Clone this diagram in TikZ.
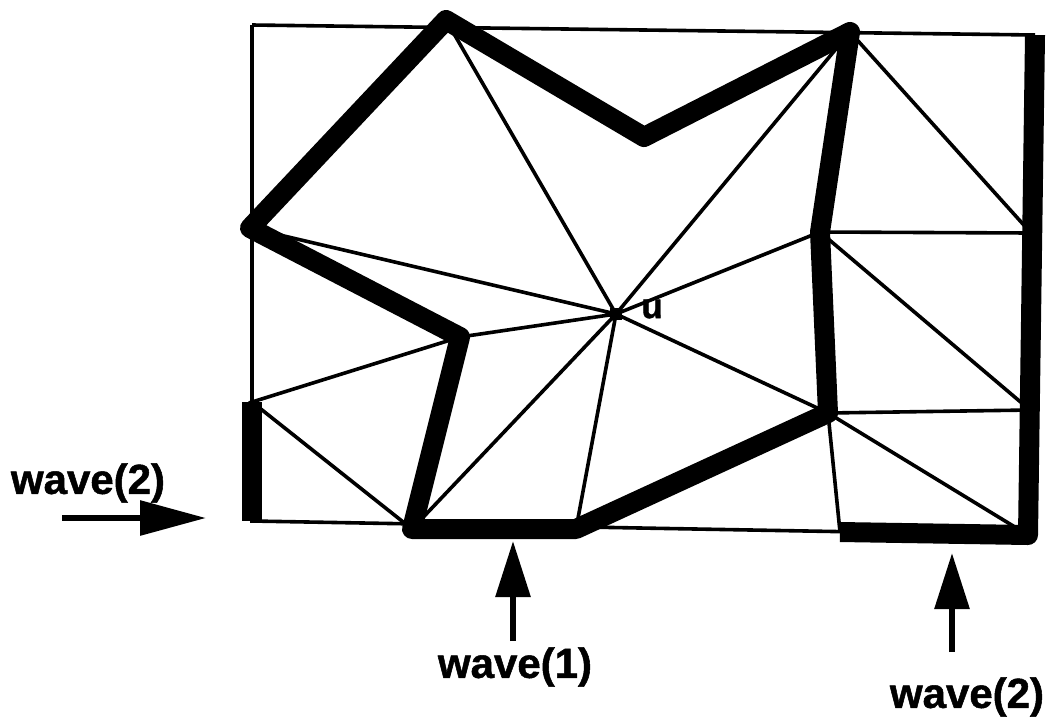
\documentclass[tikz,border=0pt]{standalone}
\usepackage{fontspec}
\setmainfont{Liberation Sans}
\newfontfamily\wavefont{Liberation Sans}[BoldFeatures={FakeBold=1.2}]
\usetikzlibrary{arrows.meta}

\begin{document}
\begin{tikzpicture}[x=1pt,y=-1pt,
  thinedge/.style={line width=3.6pt},
  thickedge/.style={line width=20pt,line join=round},
  wavearrow/.style={line width=6pt,-{Triangle[length=56pt,width=34pt]}},
  wavelabel/.style={font=\wavefont\fontsize{42}{42}\selectfont\bfseries,inner sep=0pt}]
  \useasboundingbox (0,0) rectangle (1048,716);
  % corners of the box
  \coordinate (tl) at (252,25);
  \coordinate (tr) at (1035,35);
  \coordinate (br) at (1028,535);
  \coordinate (bl) at (252,521);
  % points on the sides of the box
  \coordinate (l1) at (252,402);
  \coordinate (r1) at (1031,233);
  \coordinate (r2) at (1030,410);
  \coordinate (b1) at (840,532);
  % vertices of the thick polygon
  \coordinate (a) at (250,228);
  \coordinate (b) at (446,20);
  \coordinate (c) at (644,137);
  \coordinate (d) at (850,32);
  \coordinate (e) at (820,232);
  \coordinate (f) at (828,413);
  \coordinate (g) at (576,529);
  \coordinate (h) at (412,529);
  \coordinate (i) at (460,337);
  \node[fill,inner sep=0pt,minimum size=12pt] (u) at (616,314) {};
  \node[font=\wavefont\fontsize{35}{35}\selectfont\bfseries,inner sep=0pt] (ulab) at (652,309) {u};
  % box
  \draw[thinedge] (tl) -- (tr) (tl) -- (bl) -- (br);
  % triangulation
  \draw[thinedge] (b) -- (u.center) (d) -- (u.center) (a) -- (u.center) (i) -- (u.center)
    (h) -- (u.center) (g) -- (u.center) (f) -- (u.center) (e) -- (u.center);
  \draw[thinedge] (i) -- (l1) -- (h);
  \draw[thinedge] (d) -- (r1) -- (e) -- (r2) -- (f) -- (br) (f) -- (b1);
  % thick boundary
  \draw[thickedge] (a) -- (b) -- (c) -- (d) -- (e) -- (f) -- (g) -- (h) -- (i) -- cycle;
  \draw[thickedge] (b1) -- (br) -- (tr);
  \draw[line width=20pt] (l1) -- (bl);
  % waves
  \node[wavelabel] (wave1) at (515,667) {wave(1)};
  \node[wavelabel] (wave2l) at (88,483) {wave(2)};
  \node[wavelabel] (wave2r) at (967,697) {wave(2)};
  \coordinate (tail1) at (513,641);
  \coordinate (tip1) at (513,541);
  \coordinate (tail2l) at (62,518);
  \coordinate (tip2l) at (206,518);
  \coordinate (tail2r) at (952,652);
  \coordinate (tip2r) at (952,553);
  \draw[wavearrow] (tail1) -- (tip1);
  \draw[wavearrow] (tail2r) -- (tip2r);
  \draw[line width=6pt,-{Triangle[length=66pt,width=34pt]}] (tail2l) -- (tip2l);
\end{tikzpicture}
\end{document}
